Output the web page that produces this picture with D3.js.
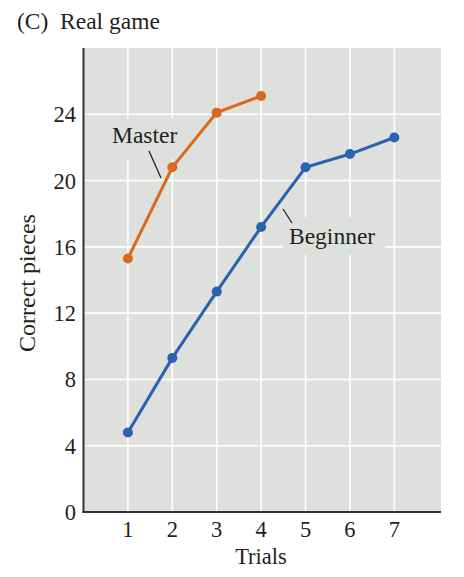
<!DOCTYPE html>
<html><head><meta charset="utf-8">
<script src="https://cdn.jsdelivr.net/npm/d3@7"></script>
<style>body{margin:0;background:#fff}svg{display:block}text{font-family:"Liberation Serif","Times New Roman",serif;fill:#231f20}</style>
</head><body><svg id="c" width="464" height="577"></svg>
<script>
const trials = [1,2,3,4,5,6,7];
const masterValues = [15.3, 20.8, 24.1, 25.1];
const beginnerValues = [4.8, 9.3, 13.3, 17.2, 20.8, 21.6, 22.6];
const yTicks = [0,4,8,12,16,20,24];
const xTicks = [1,2,3,4,5,6,7];
const title = "(C)  Real game";
const xTitle = "Trials";
const yTitle = "Correct pieces";

const svg = d3.select("#c");
const L=83.5, R=441, T=48, B=512;
const x = d3.scaleLinear().domain([0,8.05]).range([L,R]);
const y = d3.scaleLinear().domain([0,28]).range([B,T]);

svg.append("rect").attr("x",L).attr("y",T).attr("width",R-L).attr("height",B-T).attr("fill","#dde0dd");
const g = svg.append("g");
g.selectAll(".vg").data(xTicks).join("line").attr("x1",d=>x(d)).attr("x2",d=>x(d)).attr("y1",T).attr("y2",B).attr("stroke","#fff").attr("stroke-width",1.6);
g.selectAll(".hg").data(yTicks.filter(d=>d>0)).join("line").attr("x1",L).attr("x2",R).attr("y1",d=>y(d)).attr("y2",d=>y(d)).attr("stroke","#fff").attr("stroke-width",1.6);

// label knockouts
svg.append("rect").attr("x",106).attr("y",118).attr("width",79).attr("height",41).attr("fill","#dde0dd");
svg.append("rect").attr("x",283).attr("y",217).attr("width",102).attr("height",38).attr("fill","#dde0dd");

// axes
svg.append("line").attr("x1",L).attr("x2",L).attr("y1",T).attr("y2",B+1).attr("stroke","#333").attr("stroke-width",2);
svg.append("line").attr("x1",L-1).attr("x2",R).attr("y1",B).attr("y2",B).attr("stroke","#333").attr("stroke-width",2);

const fs=22.5;
svg.selectAll(".yt").data(yTicks).join("text").attr("x",76).attr("y",d=>y(d)+8).attr("text-anchor","end").attr("font-size",fs).text(d=>d);
svg.selectAll(".xt").data(xTicks).join("text").attr("x",d=>x(d)).attr("y",537).attr("text-anchor","middle").attr("font-size",fs).text(d=>d);
svg.append("text").attr("x",261).attr("y",564).attr("text-anchor","middle").attr("font-size",22.5).text(xTitle);
svg.append("text").attr("transform","translate(35,283) rotate(-90)").attr("text-anchor","middle").attr("font-size",24).text(yTitle);
svg.append("text").attr("x",17).attr("y",29).attr("font-size",23.5).style("white-space","pre").text(title);

const line = d3.line().x((d,i)=>x(trials[i])).y(d=>y(d));
function series(vals,col){
  svg.append("path").datum(vals).attr("d",line).attr("fill","none").attr("stroke",col).attr("stroke-width",3);
  svg.selectAll(null).data(vals).join("circle").attr("cx",(d,i)=>x(trials[i])).attr("cy",d=>y(d)).attr("r",5).attr("fill",col);
}
series(masterValues,"#d9691e");
series(beginnerValues,"#2a62b0");

// labels
svg.append("text").attr("x",112).attr("y",143).attr("font-size",23.5).text("Master");
svg.append("line").attr("x1",149).attr("y1",151).attr("x2",161).attr("y2",178).attr("stroke","#231f20").attr("stroke-width",1.3);
svg.append("text").attr("x",289).attr("y",244).attr("font-size",23.5).text("Beginner");
svg.append("line").attr("x1",283).attr("y1",209).attr("x2",292).attr("y2",223).attr("stroke","#231f20").attr("stroke-width",1.3);
</script></body></html>
